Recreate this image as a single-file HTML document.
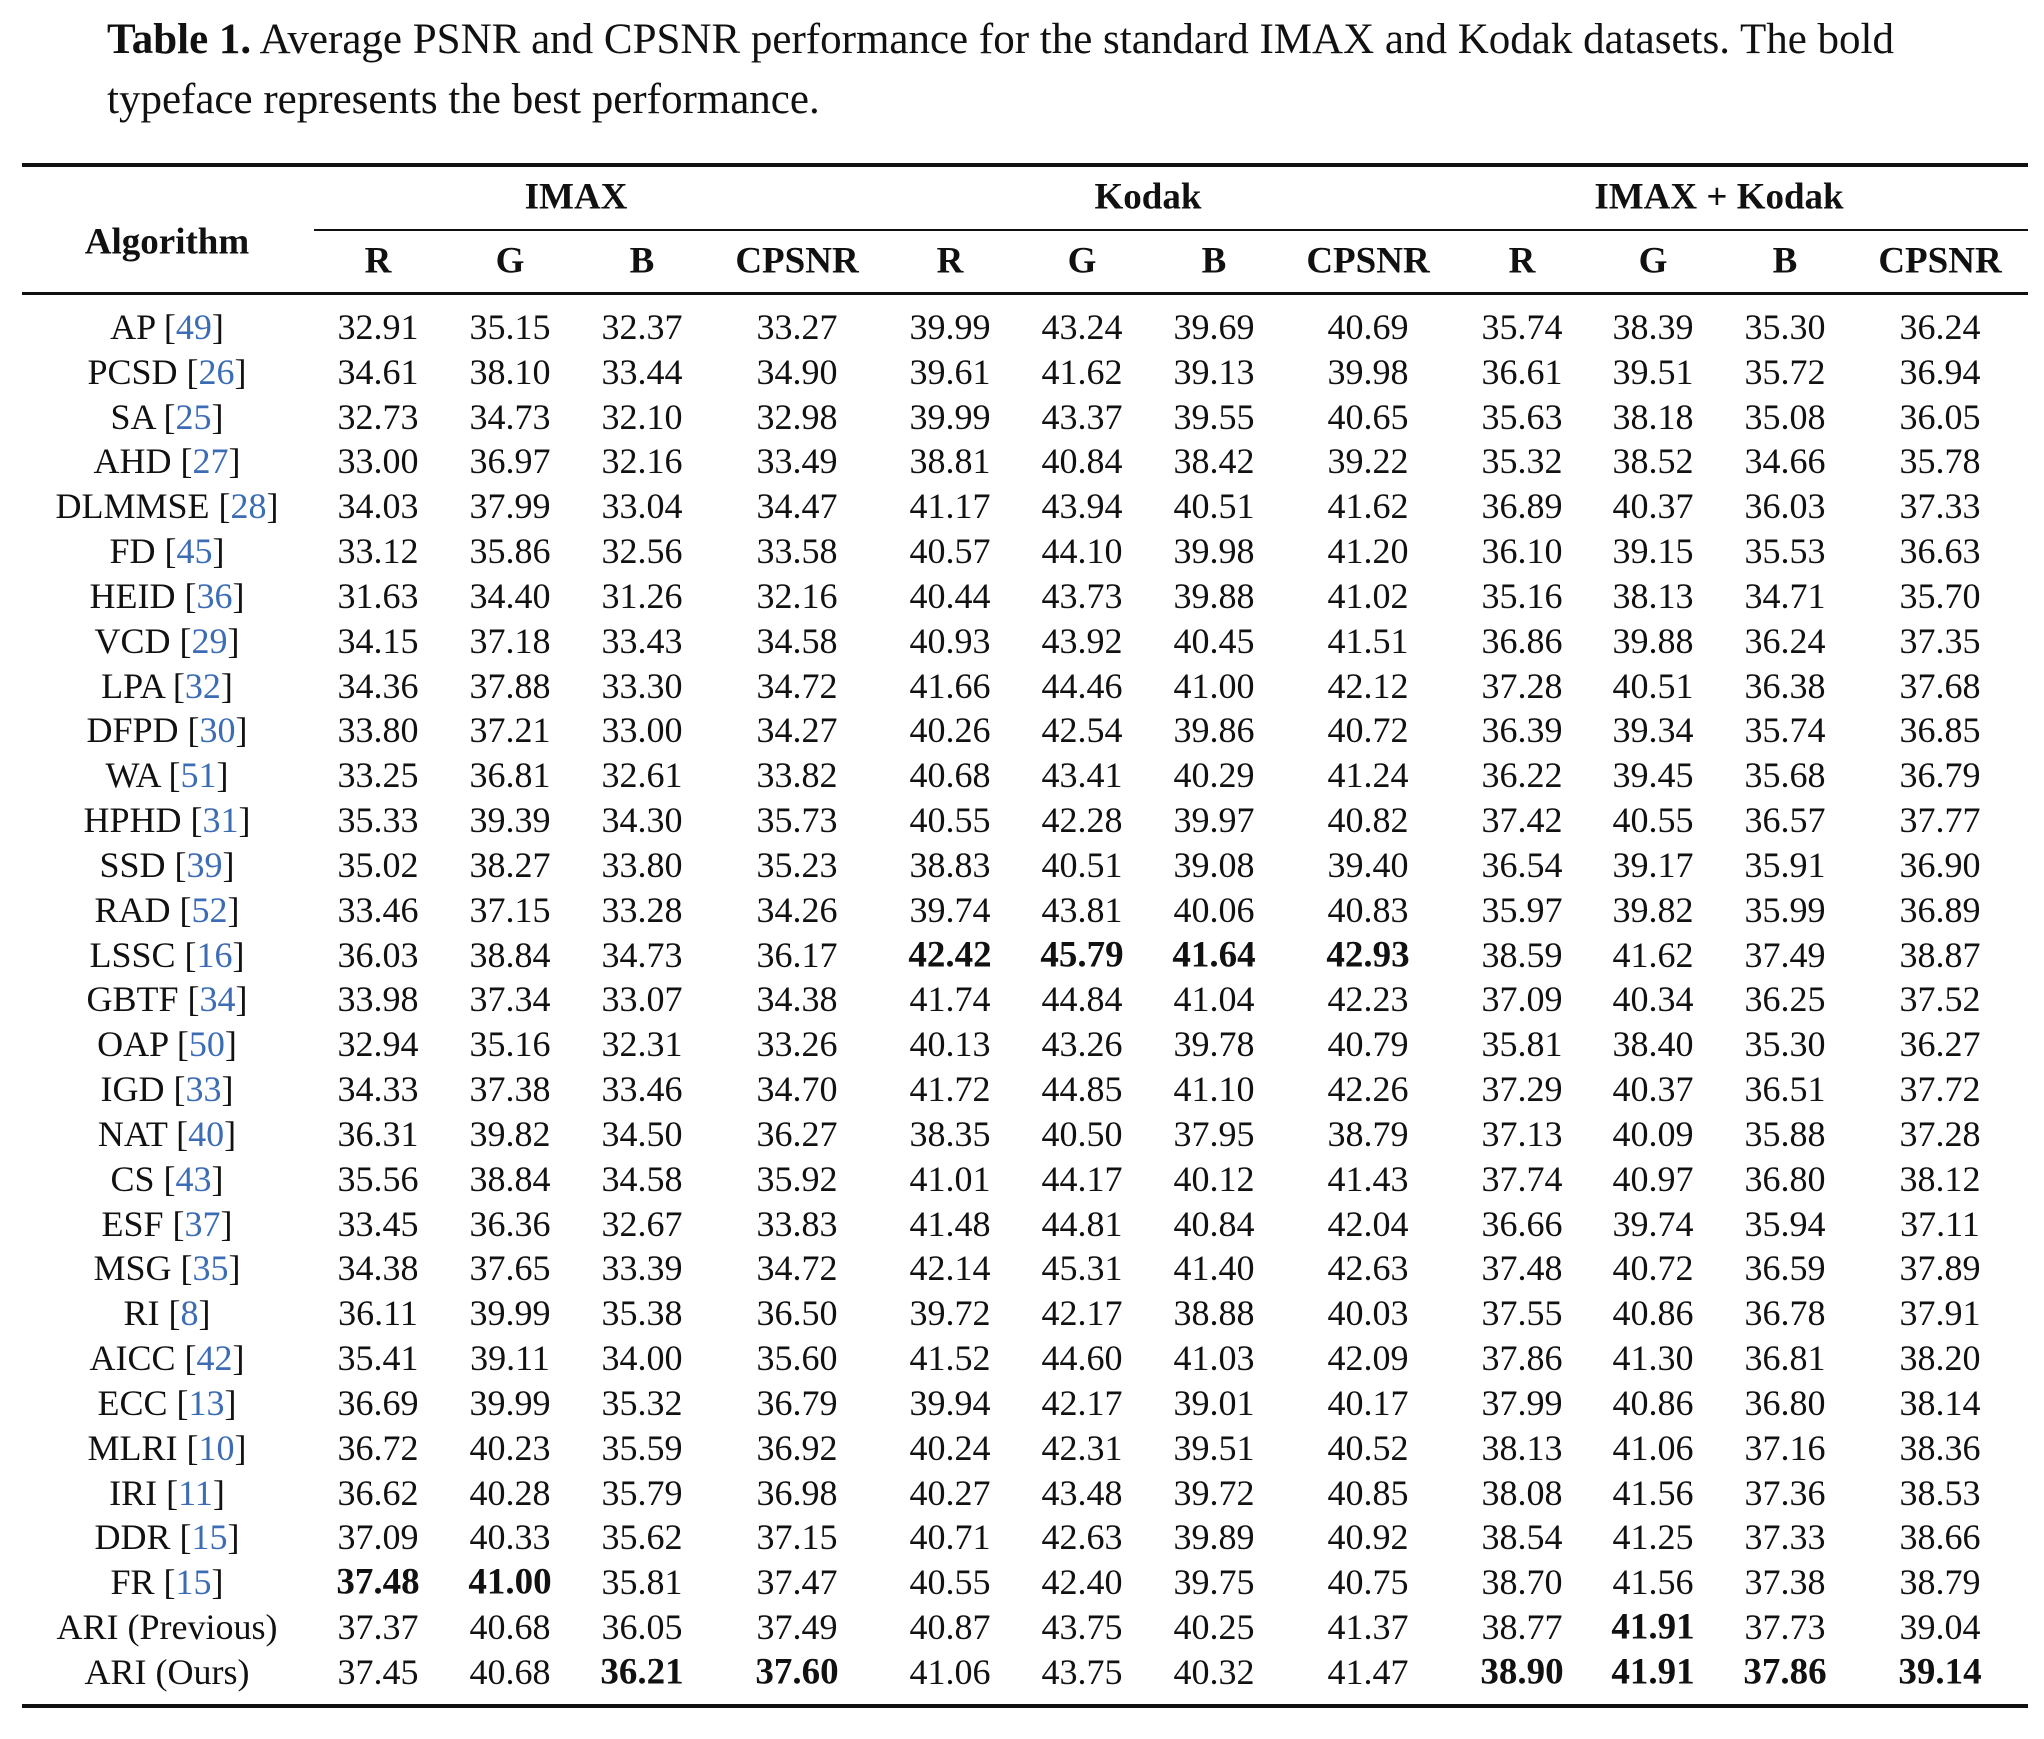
<!DOCTYPE html>
<html><head><meta charset="utf-8"><style>
body{margin:0;width:2044px;height:1739px;background:#fff;position:relative;font-family:"Liberation Serif",serif;color:#111;overflow:hidden}
.cap{position:absolute;left:107px;font-size:43px;line-height:1;white-space:nowrap}
.rule{position:absolute;background:#111}
.t{position:absolute;font-size:36px;line-height:1;transform:translate(-50%,-50%);white-space:nowrap}
.h{font-weight:bold;font-size:37px}
.c{color:#3c6cb4}
</style></head><body>
<div class="cap" style="top:18px"><b>Table 1.</b> Average PSNR and CPSNR performance for the standard IMAX and Kodak datasets. The bold</div>
<div class="cap" style="top:78px">typeface represents the best performance.</div>
<div class="rule" style="left:22px;width:2006px;top:163px;height:4px"></div>
<div class="rule" style="left:314px;width:1714px;top:229px;height:2px"></div>
<div class="rule" style="left:22px;width:2006px;top:292px;height:3px"></div>
<div class="rule" style="left:22px;width:2006px;top:1704px;height:4px"></div>
<div id="tb"></div>
<script>
const cols=[378,510,642,797,950,1082,1214,1368,1522,1653,1785,1940];
const groups=["IMAX","Kodak","IMAX + Kodak"];
const sub=["R","G","B","CPSNR"];
const names=[["AP","49"],["PCSD","26"],["SA","25"],["AHD","27"],["DLMMSE","28"],["FD","45"],["HEID","36"],["VCD ","29"],["LPA","32"],["DFPD","30"],["WA","51"],["HPHD","31"],["SSD","39"],["RAD","52"],["LSSC","16"],["GBTF","34"],["OAP","50"],["IGD","33"],["NAT","40"],["CS","43"],["ESF","37"],["MSG","35"],["RI","8"],["AICC","42"],["ECC","13"],["MLRI","10"],["IRI","11"],["DDR","15"],["FR","15"],["ARI (Previous)",""],["ARI (Ours)",""]];
const rows=[
"32.91 35.15 32.37 33.27 39.99 43.24 39.69 40.69 35.74 38.39 35.30 36.24",
"34.61 38.10 33.44 34.90 39.61 41.62 39.13 39.98 36.61 39.51 35.72 36.94",
"32.73 34.73 32.10 32.98 39.99 43.37 39.55 40.65 35.63 38.18 35.08 36.05",
"33.00 36.97 32.16 33.49 38.81 40.84 38.42 39.22 35.32 38.52 34.66 35.78",
"34.03 37.99 33.04 34.47 41.17 43.94 40.51 41.62 36.89 40.37 36.03 37.33",
"33.12 35.86 32.56 33.58 40.57 44.10 39.98 41.20 36.10 39.15 35.53 36.63",
"31.63 34.40 31.26 32.16 40.44 43.73 39.88 41.02 35.16 38.13 34.71 35.70",
"34.15 37.18 33.43 34.58 40.93 43.92 40.45 41.51 36.86 39.88 36.24 37.35",
"34.36 37.88 33.30 34.72 41.66 44.46 41.00 42.12 37.28 40.51 36.38 37.68",
"33.80 37.21 33.00 34.27 40.26 42.54 39.86 40.72 36.39 39.34 35.74 36.85",
"33.25 36.81 32.61 33.82 40.68 43.41 40.29 41.24 36.22 39.45 35.68 36.79",
"35.33 39.39 34.30 35.73 40.55 42.28 39.97 40.82 37.42 40.55 36.57 37.77",
"35.02 38.27 33.80 35.23 38.83 40.51 39.08 39.40 36.54 39.17 35.91 36.90",
"33.46 37.15 33.28 34.26 39.74 43.81 40.06 40.83 35.97 39.82 35.99 36.89",
"36.03 38.84 34.73 36.17 *42.42 *45.79 *41.64 *42.93 38.59 41.62 37.49 38.87",
"33.98 37.34 33.07 34.38 41.74 44.84 41.04 42.23 37.09 40.34 36.25 37.52",
"32.94 35.16 32.31 33.26 40.13 43.26 39.78 40.79 35.81 38.40 35.30 36.27",
"34.33 37.38 33.46 34.70 41.72 44.85 41.10 42.26 37.29 40.37 36.51 37.72",
"36.31 39.82 34.50 36.27 38.35 40.50 37.95 38.79 37.13 40.09 35.88 37.28",
"35.56 38.84 34.58 35.92 41.01 44.17 40.12 41.43 37.74 40.97 36.80 38.12",
"33.45 36.36 32.67 33.83 41.48 44.81 40.84 42.04 36.66 39.74 35.94 37.11",
"34.38 37.65 33.39 34.72 42.14 45.31 41.40 42.63 37.48 40.72 36.59 37.89",
"36.11 39.99 35.38 36.50 39.72 42.17 38.88 40.03 37.55 40.86 36.78 37.91",
"35.41 39.11 34.00 35.60 41.52 44.60 41.03 42.09 37.86 41.30 36.81 38.20",
"36.69 39.99 35.32 36.79 39.94 42.17 39.01 40.17 37.99 40.86 36.80 38.14",
"36.72 40.23 35.59 36.92 40.24 42.31 39.51 40.52 38.13 41.06 37.16 38.36",
"36.62 40.28 35.79 36.98 40.27 43.48 39.72 40.85 38.08 41.56 37.36 38.53",
"37.09 40.33 35.62 37.15 40.71 42.63 39.89 40.92 38.54 41.25 37.33 38.66",
"*37.48 *41.00 35.81 37.47 40.55 42.40 39.75 40.75 38.70 41.56 37.38 38.79",
"37.37 40.68 36.05 37.49 40.87 43.75 40.25 41.37 38.77 *41.91 37.73 39.04",
"37.45 40.68 *36.21 *37.60 41.06 43.75 40.32 41.47 *38.90 *41.91 *37.86 *39.14"];
const tb=document.getElementById('tb');
function put(x,y,html,cls,name){const d=document.createElement('div');d.className='t '+(cls||'');d.style.left=x+'px';d.style.top=y+'px';d.innerHTML=html;


tb.appendChild(d);}
put(167,242,'Algorithm','h','algorithm-header');
groups.forEach((g,i)=>put((cols[i*4+1]+cols[i*4+2])/2,197,g,'h','group-header-'+i));
cols.forEach((x,i)=>put(x,261,sub[i%4],'h','column-header-'+i));
rows.forEach((r,ri)=>{const y=327+ri*44.83;const n=names[ri];
put(167,y,n[0]+(n[1]?' [<span class="c">'+n[1]+'</span>]':''),'','algorithm-name');
r.split(' ').forEach((v,ci)=>{const b=v[0]=='*';put(cols[ci],y,b?v.slice(1):v,b?'h':'','cell-value');});});
</script>
</body></html>
